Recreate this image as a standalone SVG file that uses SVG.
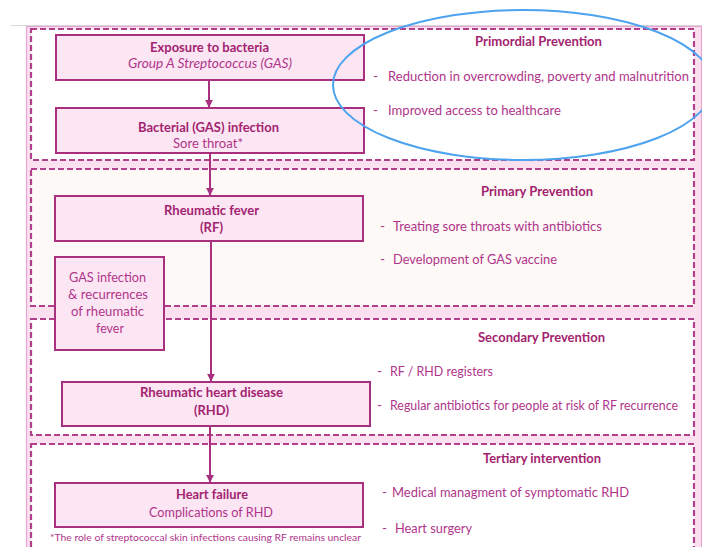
<svg xmlns="http://www.w3.org/2000/svg" width="702" height="547" viewBox="0 0 702 547">
<defs>
<style>
text{font-family:Lato,"Liberation Sans",sans-serif;fill:#b0358a;font-size:13.5px}
.b{font-weight:bold;fill:#a3236f}
.i{font-style:italic}
.c{text-anchor:middle}
.s{font-size:12.5px}
.node{fill:#fce6f4;stroke:#a8307e;stroke-width:2}
.sec{stroke:#b13f8b;stroke-width:2.2;stroke-dasharray:6 3}
.con{stroke:#a8307e;stroke-width:2;fill:none}
.fn{font-size:10px}
</style>
<marker id="ah" viewBox="0 0 10 10" refX="9" refY="5" markerWidth="4" markerHeight="4" orient="auto" markerUnits="strokeWidth"><path d="M0,0L10,5L0,10z" fill="#a8307e"/></marker>
</defs>
<rect width="702" height="547" fill="#fff"/>
<line x1="11" y1="25.5" x2="702" y2="25.5" stroke="#d8d8d8" stroke-width="1"/>
<rect x="26.5" y="26.5" width="675" height="525" fill="#fbe1f0" stroke="#e7a6cf" stroke-width="1.2"/>

<g id="sections">
<rect class="sec" x="31" y="29" width="663" height="131" fill="#fff"/>
<rect class="sec" x="31" y="169" width="663" height="137" fill="#fdf9f7"/>
<rect class="sec" x="31" y="319" width="663" height="116" fill="#fff"/>
<rect class="sec" x="31" y="444" width="663" height="104" fill="#fff"/>
</g>

<g id="connectors">
<line class="con" x1="209" y1="80" x2="209" y2="107" marker-end="url(#ah)"/>
<line class="con" x1="210" y1="153" x2="210" y2="195" marker-end="url(#ah)"/>
<line class="con" x1="211" y1="241" x2="211" y2="381" marker-end="url(#ah)"/>
<line class="con" x1="210" y1="426" x2="210" y2="482" marker-end="url(#ah)"/>
</g>

<g id="exposure">
<rect class="node" x="56" y="35" width="308" height="45"/>
<text class="b c" x="209.5" y="51.5" textLength="119" lengthAdjust="spacingAndGlyphs">Exposure to bacteria</text>
<text class="i c" x="210" y="68" textLength="164" lengthAdjust="spacingAndGlyphs">Group A Streptococcus (GAS)</text>
</g>
<g id="infection">
<rect class="node" x="56" y="108" width="308" height="45"/>
<text class="b c" x="208.5" y="132" textLength="141" lengthAdjust="spacingAndGlyphs">Bacterial (GAS) infection</text>
<text class="c" x="208" y="148" textLength="70" lengthAdjust="spacingAndGlyphs">Sore throat*</text>
</g>
<g id="rf">
<rect class="node" x="55" y="196" width="308" height="45"/>
<text class="b c" x="211.5" y="215" textLength="95" lengthAdjust="spacingAndGlyphs">Rheumatic fever</text>
<text class="b c" x="211.5" y="232" textLength="23" lengthAdjust="spacingAndGlyphs">(RF)</text>
</g>
<g id="recurrence">
<rect class="node" x="55" y="257" width="109" height="93"/>
<text class="c" x="107.5" y="282" textLength="77" lengthAdjust="spacingAndGlyphs">GAS infection</text>
<text class="c" x="108" y="299" textLength="80" lengthAdjust="spacingAndGlyphs">&amp; recurrences</text>
<text class="c" x="107.5" y="316" textLength="73" lengthAdjust="spacingAndGlyphs">of rheumatic</text>
<text class="c" x="110" y="333" textLength="28" lengthAdjust="spacingAndGlyphs">fever</text>
</g>
<g id="rhd">
<rect class="node" x="62" y="382" width="308" height="44"/>
<text class="b c" x="211.5" y="397" textLength="143" lengthAdjust="spacingAndGlyphs">Rheumatic heart disease</text>
<text class="b c" x="211.5" y="415" textLength="35" lengthAdjust="spacingAndGlyphs">(RHD)</text>
</g>
<g id="heartfailure">
<rect class="node" x="55" y="483" width="308" height="44"/>
<text class="b c" x="212" y="499" textLength="72" lengthAdjust="spacingAndGlyphs">Heart failure</text>
<text class="c" x="211" y="517" textLength="124" lengthAdjust="spacingAndGlyphs">Complications of RHD</text>
</g>
<text class="fn" x="50" y="541" textLength="311" lengthAdjust="spacingAndGlyphs">*The role of streptococcal skin infections causing RF remains unclear</text>

<g id="primordial">
<text class="b c" x="538.5" y="46" textLength="127" lengthAdjust="spacingAndGlyphs">Primordial Prevention</text>
<text x="373" y="81">-</text>
<text class="s" x="388" y="81" textLength="301" lengthAdjust="spacingAndGlyphs">Reduction in overcrowding, poverty and malnutrition</text>
<text x="373" y="115">-</text>
<text x="388" y="115" textLength="173" lengthAdjust="spacingAndGlyphs">Improved access to healthcare</text>
</g>
<g id="primary">
<text class="b c" x="537" y="196" textLength="112" lengthAdjust="spacingAndGlyphs">Primary Prevention</text>
<text x="380" y="231">-</text>
<text x="393" y="231" textLength="209" lengthAdjust="spacingAndGlyphs">Treating sore throats with antibiotics</text>
<text x="380" y="264">-</text>
<text x="393" y="264" textLength="164" lengthAdjust="spacingAndGlyphs">Development of GAS vaccine</text>
</g>
<g id="secondary">
<text class="b c" x="541.5" y="342" textLength="127" lengthAdjust="spacingAndGlyphs">Secondary Prevention</text>
<text x="377" y="376">-</text>
<text x="390" y="376" textLength="103" lengthAdjust="spacingAndGlyphs">RF / RHD registers</text>
<text x="377" y="410">-</text>
<text class="s" x="390" y="410" textLength="288" lengthAdjust="spacingAndGlyphs">Regular antibiotics for people at risk of RF recurrence</text>
</g>
<g id="tertiary">
<text class="b c" x="542" y="463" textLength="118" lengthAdjust="spacingAndGlyphs">Tertiary intervention</text>
<text x="382" y="497">-</text>
<text x="392" y="497" textLength="237" lengthAdjust="spacingAndGlyphs">Medical managment of symptomatic RHD</text>
<text x="382" y="533">-</text>
<text x="395" y="533" textLength="77" lengthAdjust="spacingAndGlyphs">Heart surgery</text>
</g>

<ellipse cx="523" cy="85" rx="190" ry="75" fill="none" stroke="#4da3ee" stroke-width="2"/>
</svg>
